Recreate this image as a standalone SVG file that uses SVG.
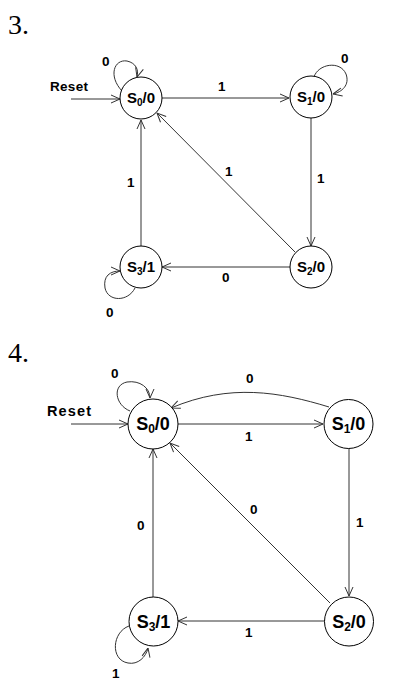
<svg xmlns="http://www.w3.org/2000/svg" width="412" height="689" viewBox="0 0 412 689">
<style>
.bg{fill:#fff}
.st{fill:#fff;stroke:#000;stroke-width:1}
.ln{fill:none;stroke:#333;stroke-width:1}
.lb{font-family:"Liberation Sans",Arial,sans-serif;font-weight:bold;font-size:13.5px;fill:#000}
.s3{font-family:"Liberation Sans",Arial,sans-serif;font-weight:bold;font-size:15px;fill:#000}
.s4{font-family:"Liberation Sans",Arial,sans-serif;font-weight:bold;font-size:18px;fill:#000}
.num{font-family:"Liberation Serif","Times New Roman",serif;font-size:28px;fill:#000}
</style>
<defs>
<marker id="ah" viewBox="0 0 10 10" refX="10" refY="5" markerWidth="10" markerHeight="10" markerUnits="userSpaceOnUse" orient="auto">
<path d="M1,1 L10,5 L1,9" fill="none" stroke="#333" stroke-width="1"/>
</marker>
</defs>
<rect class="bg" x="0" y="0" width="412" height="689"/>
<text class="num" x="8" y="34">3.</text>
<text class="num" x="8" y="362">4.</text>

<g id="connectors3">
<text class="lb" x="50" y="91" style="font-size:13.5px" textLength="38">Reset</text>
<path class="ln" d="M71,99 L120,99" marker-end="url(#ah)"/>
<path class="ln" d="M122,91 C108,76 114,59 127,61 C136,63 139,70 137,77" marker-end="url(#ah)"/>
<text class="lb" x="102" y="66">0</text>
<path class="ln" d="M162,98 L289,98" marker-end="url(#ah)"/>
<text class="lb" x="218" y="91">1</text>
<path class="ln" d="M314,77 C318,64 340,60 346,74 C350,85 342,92 333,94" marker-end="url(#ah)"/>
<text class="lb" x="341" y="63">0</text>
<path class="ln" d="M311,118 L311,246" marker-end="url(#ah)"/>
<text class="lb" x="317" y="183">1</text>
<path class="ln" d="M295,252 L157,113" marker-end="url(#ah)"/>
<text class="lb" x="225" y="176">1</text>
<path class="ln" d="M290,267 L162,267" marker-end="url(#ah)"/>
<text class="lb" x="222" y="282">0</text>
<path class="ln" d="M141,247 L141,120" marker-end="url(#ah)"/>
<text class="lb" x="127" y="187">1</text>
<path class="ln" d="M135,288 C128,302 108,302 105,288 C103,276 110,271 120,271" marker-end="url(#ah)"/>
<text class="lb" x="106" y="317">0</text>
</g>

<g id="s0_3"><circle class="st" cx="141" cy="98" r="21"/><text class="s3" x="141" y="103" text-anchor="middle">S<tspan font-size="10" dy="3">0</tspan><tspan dy="-3">/0</tspan></text></g>
<g id="s1_3"><circle class="st" cx="311" cy="97" r="21"/><text class="s3" x="311" y="102" text-anchor="middle">S<tspan font-size="10" dy="3">1</tspan><tspan dy="-3">/0</tspan></text></g>
<g id="s2_3"><circle class="st" cx="311" cy="267" r="21"/><text class="s3" x="311" y="272" text-anchor="middle">S<tspan font-size="10" dy="3">2</tspan><tspan dy="-3">/0</tspan></text></g>
<g id="s3_3"><circle class="st" cx="141" cy="267" r="21"/><text class="s3" x="141" y="272" text-anchor="middle">S<tspan font-size="10" dy="3">3</tspan><tspan dy="-3">/1</tspan></text></g>

<g id="connectors4">
<text class="lb" x="47" y="416" style="font-size:14.5px" textLength="44">Reset</text>
<path class="ln" d="M71,424 L128,424" marker-end="url(#ah)"/>
<path class="ln" d="M130,411 C115,405 112,385 127,382 C140,380 150,388 150,398" marker-end="url(#ah)"/>
<text class="lb" x="111" y="378">0</text>
<path class="ln" d="M178,424 L323,424" marker-end="url(#ah)"/>
<text class="lb" x="245" y="441">1</text>
<path class="ln" d="M329,407 C280,392 230,383 171,408" marker-end="url(#ah)"/>
<text class="lb" x="246" y="383">0</text>
<path class="ln" d="M349,448 L349,596" marker-end="url(#ah)"/>
<text class="lb" x="356" y="527">1</text>
<path class="ln" d="M330,603 L170,443" marker-end="url(#ah)"/>
<text class="lb" x="250" y="514">0</text>
<path class="ln" d="M325,621 L178,621" marker-end="url(#ah)"/>
<text class="lb" x="245" y="637">1</text>
<path class="ln" d="M153,597 L153,449" marker-end="url(#ah)"/>
<text class="lb" x="137" y="530">0</text>
<path class="ln" d="M129,626 C112,632 110,660 128,663 C138,665 146,657 148,648" marker-end="url(#ah)"/>
<text class="lb" x="112" y="678">1</text>
</g>

<g id="s0_4"><circle class="st" cx="153" cy="424" r="25"/><text class="s4" x="153" y="430" text-anchor="middle">S<tspan font-size="12" dy="3">0</tspan><tspan dy="-3">/0</tspan></text></g>
<g id="s1_4"><circle class="st" cx="348.5" cy="424" r="24.5"/><text class="s4" x="348.5" y="430" text-anchor="middle">S<tspan font-size="12" dy="3">1</tspan><tspan dy="-3">/0</tspan></text></g>
<g id="s2_4"><circle class="st" cx="349" cy="621.5" r="24.5"/><text class="s4" x="349" y="627.5" text-anchor="middle">S<tspan font-size="12" dy="3">2</tspan><tspan dy="-3">/0</tspan></text></g>
<g id="s3_4"><circle class="st" cx="153.5" cy="621.5" r="24.5"/><text class="s4" x="153.5" y="627.5" text-anchor="middle">S<tspan font-size="12" dy="3">3</tspan><tspan dy="-3">/1</tspan></text></g>
</svg>
